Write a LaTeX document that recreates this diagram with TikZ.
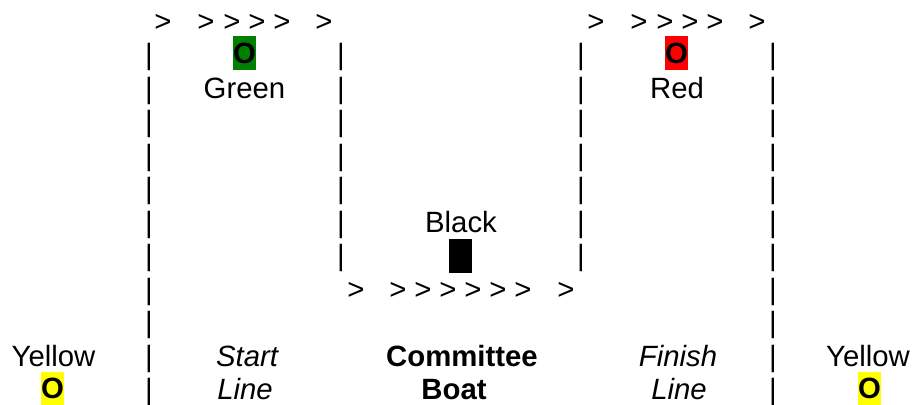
\documentclass[tikz,border=0pt]{standalone}
\usepackage{fontspec}
\setmainfont{Liberation Sans}
\definecolor{flaggreen}{HTML}{008000}
\definecolor{flagred}{HTML}{FF0000}
\definecolor{flagyellow}{HTML}{FFFF00}

\begin{document}
\begin{tikzpicture}[x=0.75pt, y=-0.75pt, font=\fontsize{22}{26}\selectfont,
  glyph/.style={anchor=base, inner sep=0pt},
  flag/.style={fill=#1, inner sep=0pt, minimum width=17.25pt, minimum height=25.5pt,
    font=\fontsize{22}{26}\selectfont\bfseries}]
  \useasboundingbox (0,0) rectangle (912,404);
  % course boundaries
  \foreach \r in {2,...,12} {
    \node[glyph] (outerL\r) at (149, {31+33.5*(\r-1)}) {|};
    \node[glyph] (outerR\r) at (773, {31+33.5*(\r-1)}) {|};
  }
  \foreach \r in {2,...,8} {
    \node[glyph] (innerL\r) at (341, {31+33.5*(\r-1)}) {|};
    \node[glyph] (innerR\r) at (581, {31+33.5*(\r-1)}) {|};
  }
  % direction of sailing
  \foreach \x [count=\i] in {163,206,232,257,282,324} {
    \node[glyph] (startdir\i) at (\x,31) {>};
    \node[glyph] (finishdir\i) at (\x+433,31) {>};
  }
  \foreach \x [count=\i] in {356,398,423,448,473,498,523,566}
    \node[glyph] (boatdir\i) at (\x,299) {>};
  % marks
  \node[flag=flaggreen] (greenmark) at (244.5,53) {O};
  \node[glyph] (greenlbl) at (244.5,98) {Green};
  \node[flag=flagred] (redmark) at (676.5,53) {O};
  \node[glyph] (redlbl) at (677,98) {Red};
  \node[glyph] (blacklbl) at (461,232) {Black};
  \node[flag=black] (blackmark) at (460.5,255.5) {};
  \node[glyph] (yellowLlbl) at (53.5,366) {Yellow};
  \node[flag=flagyellow] (yellowLmark) at (52.5,388.5) {O};
  \node[glyph] (yellowRlbl) at (868,366) {Yellow};
  \node[flag=flagyellow] (yellowRmark) at (869.5,388.5) {O};
  % areas
  \node[glyph, font=\fontsize{22}{26}\selectfont\itshape] (start1) at (247,366) {Start};
  \node[glyph, font=\fontsize{22}{26}\selectfont\itshape] (start2) at (245,399.5) {Line};
  \node[glyph, font=\fontsize{22}{26}\selectfont\bfseries] (boat1) at (462,366) {Committee};
  \node[glyph, font=\fontsize{22}{26}\selectfont\bfseries] (boat2) at (454,399.5) {Boat};
  \node[glyph, font=\fontsize{22}{26}\selectfont\itshape] (finish1) at (678,366) {Finish};
  \node[glyph, font=\fontsize{22}{26}\selectfont\itshape] (finish2) at (679,399.5) {Line};
\end{tikzpicture}
\end{document}
